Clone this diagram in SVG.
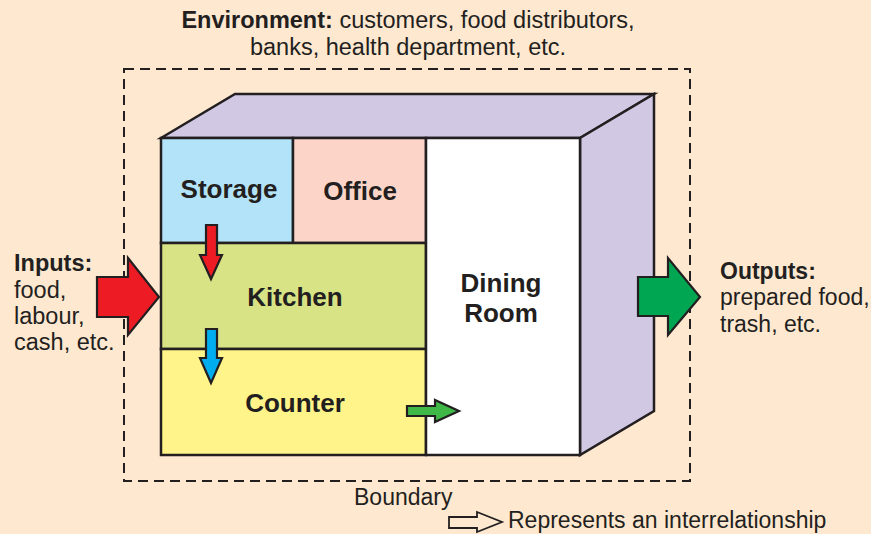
<svg xmlns="http://www.w3.org/2000/svg" width="871" height="534" viewBox="0 0 871 534">
<style>
text{font-family:"Liberation Sans",Arial,sans-serif;fill:#231F20}
.lbl{font-size:26px;font-weight:bold;text-anchor:middle}
.t{font-size:23px}
.t2{font-size:23.5px}
.b{font-weight:bold}
.ln{stroke:#231F20;stroke-width:2.5;stroke-linejoin:miter}
.ar{stroke:#231F20;stroke-width:2.2;stroke-linejoin:miter}
</style>
<rect width="871" height="534" fill="#FEE8D0"/>
<rect x="124" y="69" width="566" height="412" fill="none" stroke="#231F20" stroke-width="2" stroke-dasharray="10 6"/>
<g id="cube">
<polygon class="ln" points="161,138 235,94 654,94 580,138" fill="#D1C8E4"/>
<polygon class="ln" points="580,138 654,94 654,411 580,455" fill="#D1C8E4"/>
</g>
<g id="storage">
<rect class="ln" x="161" y="138" width="132" height="105" fill="#B3E3F8"/>
<text class="lbl" x="229" y="198">Storage</text>
</g>
<g id="office">
<rect class="ln" x="293" y="138" width="133" height="105" fill="#FDD5C8"/>
<text class="lbl" x="360" y="200">Office</text>
</g>
<g id="kitchen">
<rect class="ln" x="161" y="243" width="265" height="106" fill="#D8E386"/>
<text class="lbl" x="295" y="306">Kitchen</text>
</g>
<g id="counter">
<rect class="ln" x="161" y="349" width="265" height="106" fill="#FFF489"/>
<text class="lbl" x="295" y="412">Counter</text>
</g>
<g id="dining">
<rect class="ln" x="426" y="138" width="154" height="317" fill="#FFFFFF"/>
<text class="lbl" x="501" y="292">Dining</text>
<text class="lbl" x="501" y="322">Room</text>
</g>
<g id="connectors">
<polygon class="ar" fill="#ED1C24" points="97,277 128,277 128,258 159,297 128,335 128,317 97,317"/>
<polygon class="ar" fill="#00A651" points="638,277 668,277 668,258 700,297 668,335 668,316 638,316"/>
<polygon class="ar" fill="#ED1C24" points="206,225 217,225 217,255 222,255 211,279 200,255 206,255"/>
<polygon class="ar" fill="#00AEEF" points="206,329 217,329 217,358 222,358 211,383 200,358 206,358"/>
<polygon class="ar" fill="#40B848" points="407,406 435,406 435,400 459,411 435,422 435,416 407,416"/>
</g>
<g id="environment">
<text class="t2" x="408" y="28" text-anchor="middle"><tspan class="b">Environment:</tspan> customers, food distributors,</text>
<text class="t2" x="408" y="55" text-anchor="middle">banks, health department, etc.</text>
</g>
<g id="inputs">
<text class="t2 b" x="14" y="271">Inputs:</text>
<text class="t2" x="14" y="298">food,</text>
<text class="t2" x="14" y="324">labour,</text>
<text class="t2" x="14" y="350">cash, etc.</text>
</g>
<g id="outputs">
<text class="t b" x="720" y="279">Outputs:</text>
<text class="t" x="720" y="305">prepared food,</text>
<text class="t" x="720" y="332">trash, etc.</text>
</g>
<g id="legend">
<text class="t" x="354" y="505">Boundary</text>
<polygon points="449,517 477,517 477,512 502,522 477,532 477,528 449,528" fill="none" stroke="#231F20" stroke-width="1.8"/>
<text class="t" x="508" y="528">Represents an interrelationship</text>
</g>
</svg>
